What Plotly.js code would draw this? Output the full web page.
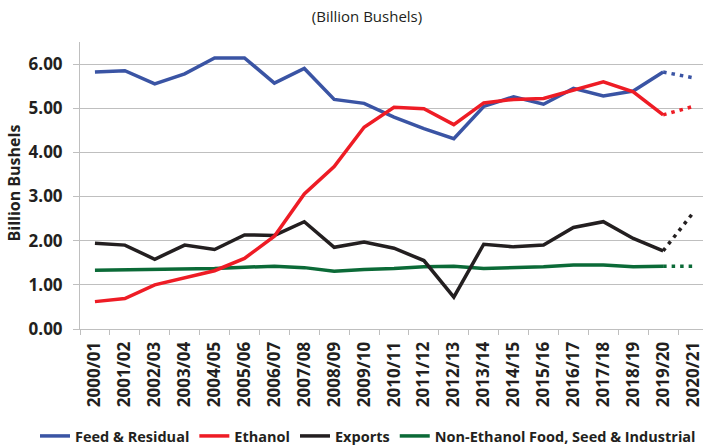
<!DOCTYPE html>
<html>
<head>
<meta charset="utf-8">
<script src="https://cdn.plot.ly/plotly-3.0.1.min.js"></script>
<style>
html,body{margin:0;padding:0;overflow:hidden;background:#fff;width:703px;height:447px;}
#chart{width:709px;height:447px;}
</style>
</head>
<body>
<div id="chart"></div>
<script>
const categories = ['2000/01','2001/02','2002/03','2003/04','2004/05','2005/06','2006/07','2007/08','2008/09','2009/10','2010/11','2011/12','2012/13','2013/14','2014/15','2015/16','2016/17','2017/18','2018/19','2019/20','2020/21'];
const feedResidual = [5.82,5.85,5.55,5.78,6.14,6.14,5.57,5.90,5.20,5.11,4.80,4.54,4.31,5.04,5.26,5.09,5.45,5.28,5.39,5.82,5.69];
const ethanol = [0.62,0.69,1.00,1.17,1.32,1.60,2.10,3.06,3.68,4.57,5.02,4.99,4.63,5.12,5.20,5.22,5.42,5.60,5.37,4.85,5.04];
const exportsUse = [1.94,1.90,1.58,1.90,1.80,2.13,2.12,2.43,1.85,1.97,1.83,1.55,0.72,1.92,1.86,1.90,2.30,2.43,2.05,1.77,2.63];
const foodSeedInd = [1.33,1.34,1.35,1.36,1.37,1.40,1.42,1.39,1.31,1.35,1.37,1.41,1.42,1.37,1.39,1.41,1.45,1.45,1.41,1.42,1.42];
const seriesNames = ['Feed & Residual','Ethanol','Exports','Non-Ethanol Food, Seed & Industrial'];
const yTickValues = [0,1,2,3,4,5,6];

const nActual = 20; // last actual index is 19 (2019/20); 2020/21 projected
const FONT = 'Open Sans, Noto Sans, sans-serif';
const TXT = '#231f20';

function pair(values, name, color, rank) {
  return [
    {type:'scatter', mode:'lines', x:categories.slice(0,nActual), y:values.slice(0,nActual),
     name:name, legendrank:rank, line:{color:color, width:3.5}, hoverinfo:'x+y'},
    {type:'scatter', mode:'lines', x:categories.slice(nActual-1), y:values.slice(nActual-1),
     name:name, showlegend:false, line:{color:color, width:3.5, dash:'3.5px,5px'}, hoverinfo:'x+y'}
  ];
}

const traces = [].concat(
  pair(foodSeedInd, seriesNames[3], '#0b6a37', 4),
  pair(exportsUse, seriesNames[2], '#231f20', 3),
  pair(feedResidual, seriesNames[0], '#3a54a4', 1),
  pair(ethanol, seriesNames[1], '#ee1c25', 2)
);

const layout = {
  width:709, height:447,
  margin:{l:80, r:1, t:42, b:118, autoexpand:false},
  paper_bgcolor:'#fff', plot_bgcolor:'#fff',
  font:{family:FONT, color:TXT},
  showlegend:true,
  title:{text:'(Billion Bushels)', font:{family:FONT, size:15, color:TXT},
         x:367/709, xref:'container', xanchor:'center', y:1-17/447, yref:'container', yanchor:'middle'},
  xaxis:{type:'category', range:[-0.5,20.5], showgrid:false, showline:true, linecolor:'#bfbfbf', linewidth:1,
         ticks:'outside', tickson:'boundaries', ticklen:5, tickcolor:'#bfbfbf', ticklabelstandoff:5,
         tickangle:-90, tickfont:{family:FONT, size:17, weight:'bold', color:TXT}, fixedrange:true},
  yaxis:{range:[0,6.5], tickvals:yTickValues, tickformat:'.2f', showgrid:true, gridcolor:'#bfbfbf', gridwidth:1,
         showline:true, linecolor:'#bfbfbf', ticks:'outside', ticklen:6, tickcolor:'#bfbfbf', ticklabelstandoff:7,
         zeroline:false, tickfont:{family:FONT, size:17, weight:'bold', color:TXT}, fixedrange:true},
  annotations:[{text:'Billion Bushels', xref:'paper', yref:'paper', x:0, y:0.5, xshift:-67, yshift:2,
                textangle:-90, showarrow:false, xanchor:'center', yanchor:'middle',
                font:{family:FONT, size:16, weight:'bold', color:TXT}}],
  legend:{orientation:'h', xref:'paper', yref:'paper', x:-45/628, y:-91/287, xanchor:'left', yanchor:'top',
          font:{family:FONT, size:14.5, weight:'bold', color:TXT}, traceorder:'normal', itemwidth:30, bgcolor:'rgba(0,0,0,0)'}
};

Plotly.newPlot('chart', traces, layout, {displayModeBar:false, staticPlot:true});
</script>
</body>
</html>
